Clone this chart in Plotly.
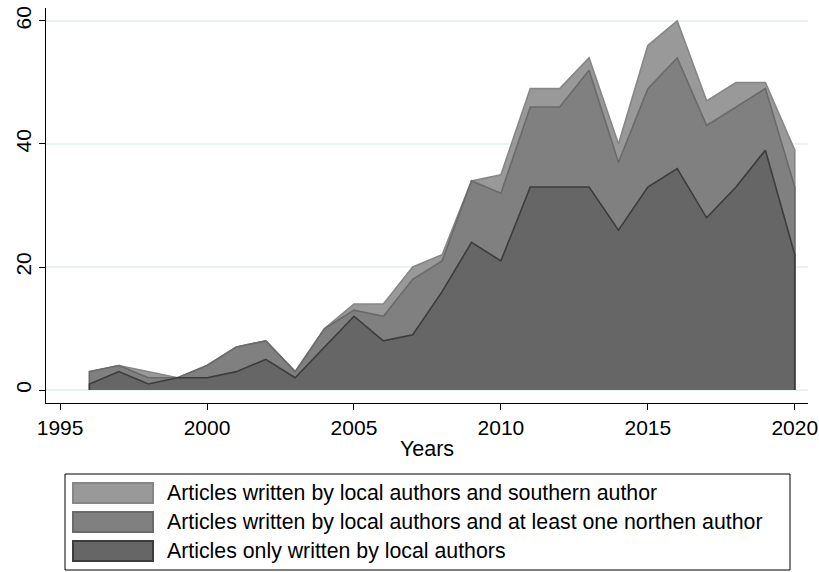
import plotly.graph_objects as go

years = list(range(1996, 2021))
local_only = [1, 3, 1, 2, 2, 3, 5, 2, 7, 12, 8, 9, 16, 24, 21, 33, 33, 33, 26, 33, 36, 28, 33, 39, 22]
local_northern = [2, 1, 1, 0, 2, 4, 3, 1, 3, 1, 4, 9, 5, 10, 11, 13, 13, 19, 11, 16, 18, 15, 13, 10, 11]
local_southern = [0, 0, 1, 0, 0, 0, 0, 0, 0, 1, 2, 2, 1, 0, 3, 3, 3, 2, 3, 7, 6, 4, 4, 1, 6]

names = [
    "Articles written by local authors and southern author",
    "Articles written by local authors and at least one northen author",
    "Articles only written by local authors",
]
x_ticks = [1995, 2000, 2005, 2010, 2015, 2020]
y_ticks = [0, 20, 40, 60]

cum_local = local_only
cum_north = [a + b for a, b in zip(local_only, local_northern)]
cum_top = [a + b for a, b in zip(cum_north, local_southern)]

fills = ["#999999", "#808080", "#666666"]
edges = ["#868686", "#6a6a6a", "#3c3c3c"]
series = [cum_top, cum_north, cum_local]

fig = go.Figure()
for vals, name, fc, ec in zip(series, names, fills, edges):
    xs = [years[0]] + years + [years[-1]]
    ys = [0] + vals + [0]
    fig.add_trace(go.Scatter(
        x=xs, y=ys, mode="lines", fill="toself", fillcolor=fc,
        line=dict(color=ec, width=1.6), name=name, showlegend=False,
        hoverinfo="skip",
    ))

font = "Liberation Sans, Arial, sans-serif"

L, R, T, B = 46, 808, 8, 403
PW, PH = R - L, B - T


def px(x):
    return (x - L) / PW


def py(y):
    return (B - y) / PH


# custom legend box
fig.add_shape(type="rect", xref="paper", yref="paper",
              x0=px(65), x1=px(790), y0=py(570), y1=py(474),
              line=dict(color="#000000", width=1), fillcolor="white")
row_y = [493, 522, 551]
for ry, name, fc, ec in zip(row_y, names, fills, edges):
    fig.add_shape(type="rect", xref="paper", yref="paper",
                  x0=px(73), x1=px(153), y0=py(ry + 10), y1=py(ry - 10),
                  line=dict(color=ec, width=2), fillcolor=fc)
    fig.add_annotation(xref="paper", yref="paper",
                       x=px(165), y=py(ry),
                       text=name, showarrow=False, xanchor="left", yanchor="middle",
                       font=dict(family=font, size=21.3, color="#000000"))

fig.update_layout(
    width=819, height=572,
    margin=dict(l=L, r=819 - R, t=T, b=572 - B),
    paper_bgcolor="white", plot_bgcolor="white",
    font=dict(family=font, size=21, color="#000000"),
    showlegend=False,
)
fig.update_xaxes(
    range=[1994.52, 2020.45], tickvals=x_ticks, ticks="outside", ticklen=6,
    tickcolor="#000000", showline=True, linecolor="#000000", linewidth=1.2,
    showgrid=False, zeroline=False, automargin=False,
    title=dict(text="Years", font=dict(size=21.5), standoff=2),
    tickfont=dict(size=21),
)
fig.update_yaxes(
    range=[-2.1, 62.1], tickvals=y_ticks, ticks="outside", ticklen=6,
    tickcolor="#000000", showline=True, linecolor="#000000", linewidth=1.2,
    showgrid=True, gridcolor="#eaf2f3", gridwidth=1.5, zeroline=False,
    automargin=False, tickangle=-90, tickfont=dict(size=21),
)

fig.write_html("out.html", config={"displayModeBar": False},
               post_script="document.body.style.margin='0';")
